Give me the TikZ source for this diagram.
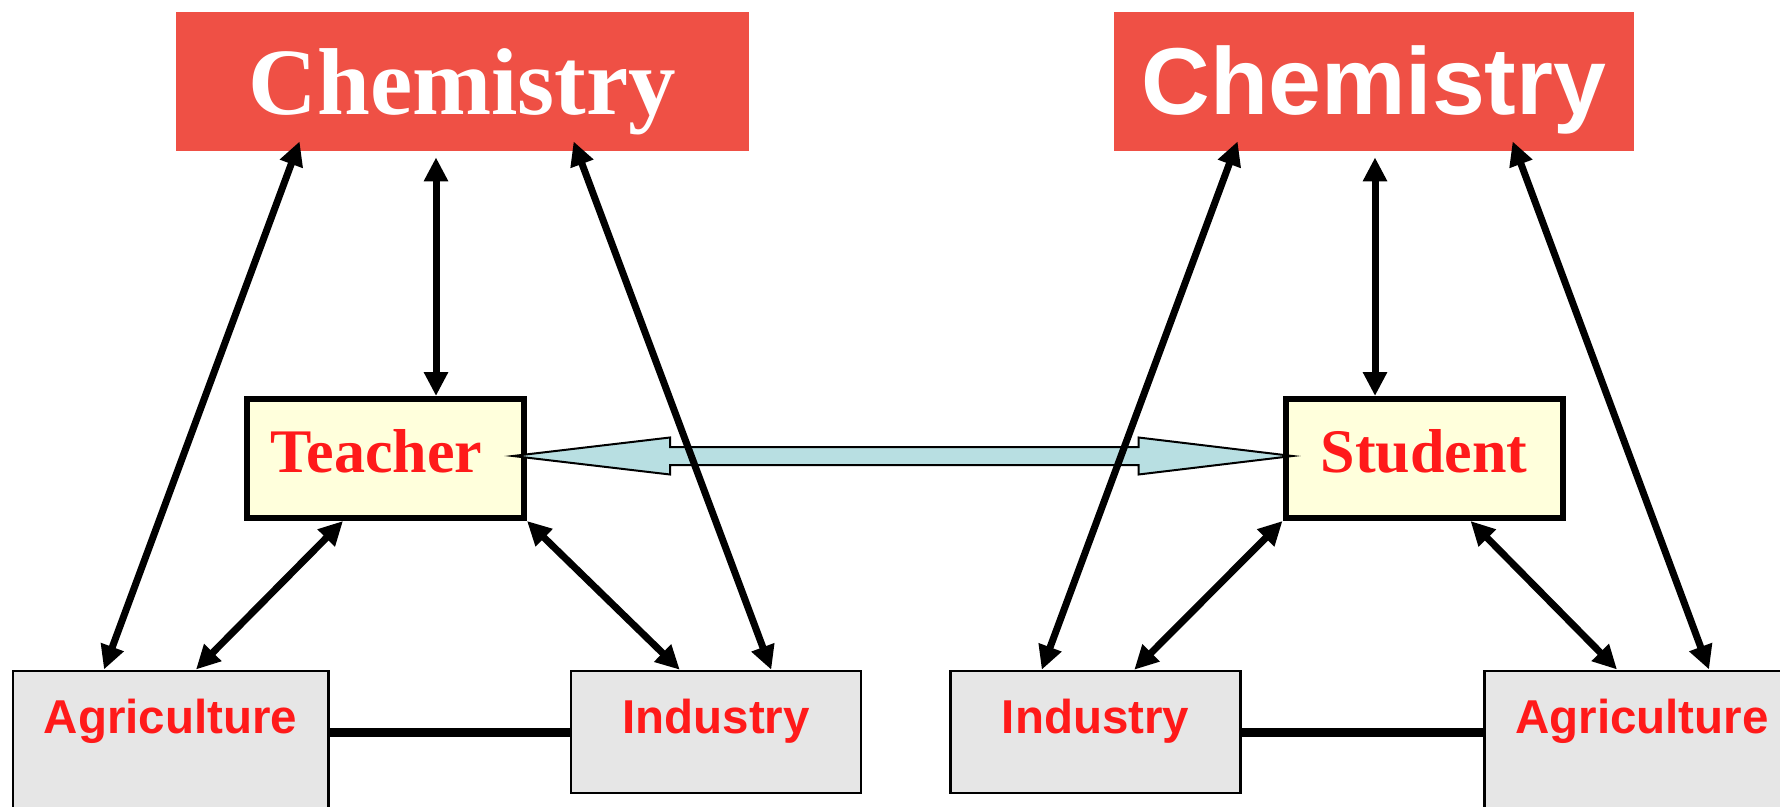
\documentclass[tikz,border=0pt]{standalone}
\usepackage{fontspec}
\setmainfont{Liberation Serif}
\newfontfamily\arialfont{Liberation Sans}
\usetikzlibrary{calc,arrows.meta}
\definecolor{chemred}{RGB}{239,80,69}
\definecolor{wordred}{RGB}{255,26,26}
\definecolor{padyellow}{RGB}{255,255,220}
\definecolor{fieldgray}{RGB}{230,230,230}
\definecolor{pipeblue}{RGB}{184,223,226}

\begin{document}
\begin{tikzpicture}[x=0.5pt,y=-0.5pt,
    chem/.style={fill=chemred,text=white,minimum width=#1,minimum height=69.5pt,inner sep=0pt,text height=33.5pt,text depth=0pt},
    pad/.style={draw,line width=3pt,fill=padyellow,text=wordred,minimum width=138.5pt,minimum height=59.5pt,font=\bfseries\fontsize{31}{31}\selectfont,text height=22pt,text depth=8.5pt},
    field/.style={draw,line width=1.25pt,fill=fieldgray,text=wordred,font=\arialfont\bfseries\fontsize{23.75}{24}\selectfont,text height=17pt,inner sep=2pt},
    link/.style={line width=3.5pt,{Triangle[length=12pt,width=11.5pt]}-{Triangle[length=12pt,width=11.5pt]}},
    bar/.style={line width=4.5pt},
    pipe/.style={draw,line width=1pt,fill=pipeblue}]
  \useasboundingbox (0,0) rectangle (1780,807);
  % boxes
  \node[chem=286.5pt,font=\bfseries\fontsize{47.5}{48}\selectfont] (chemL) at (462.5,81.5) {Chemistry};
  \node[chem=260pt,font=\arialfont\bfseries\fontsize{47.5}{48}\selectfont] (chemR) at (1374,81.5) {Chemistry};
  \node[pad] (teach) at (385.5,458.5) {Teacher\hspace*{9pt}};
  \node[pad] (stud) at (1424,458.5) {Student};
  \node[field,minimum width=157.75pt,minimum height=85pt,text depth=39.75pt] (agriL) at (170.5,755.75) {Agriculture};
  \node[field,minimum width=145pt,minimum height=61pt,text depth=16pt] (indL) at (716,732) {Industry};
  \node[field,minimum width=145pt,minimum height=61pt,text depth=16pt] (indR) at (1095.5,732) {Industry};
  \node[field,minimum width=157.75pt,minimum height=85pt,text depth=39.75pt] (agriR) at (1642,755.75) {Agriculture};
  % teacher <-> student
  \path ($(teach.east)+(-14,-2.5)$) coordinate (lt)
        ($(stud.west)+(10,-2.5)$) coordinate (rt);
  \draw[pipe] (lt) -- ++(157,-18.5) -- ++(0,9.5) -- ($(rt)+(-154,-9)$) -- ++(0,-9.5)
    -- (rt) -- ++(-154,18.5) -- ++(0,-9.5) -- ($(lt)+(157,9)$) -- ++(0,9.5) -- cycle;
  % left triangle
  \draw[link] ($(chemL.south west)+(124,-10)$) -- ($(agriL.north west)+(92.5,0)$);
  \draw[link] ($(chemL.south)+(-26.5,6)$) -- ($(teach.north)+(50.5,0)$);
  \draw[link] ($(chemL.south west)+(398,-10)$) -- ($(indL.north west)+(201.5,0)$);
  \draw[link] ($(teach.south west)+(99,0)$) -- ($(agriL.north west)+(184.5,0)$);
  \draw[link] (teach.south east) -- ($(indL.north west)+(110,0)$);
  \draw[bar] (agriL.east |- indL.west) -- (indL.west);
  % right triangle
  \draw[link] ($(chemR.south west)+(124,-10)$) -- ($(indR.north west)+(92.5,0)$);
  \draw[link] ($(chemR.south)+(1,6)$) -- ($(stud.north)+(-49,0)$);
  \draw[link] ($(chemR.south west)+(399,-10)$) -- ($(agriR.north west)+(226,0)$);
  \draw[link] (stud.south west) -- ($(indR.north west)+(185,0)$);
  \draw[link] ($(stud.south west)+(188,0)$) -- ($(agriR.north west)+(134,0)$);
  \draw[bar] (indR.east) -- (indR.east -| agriR.west);
\end{tikzpicture}
\end{document}
